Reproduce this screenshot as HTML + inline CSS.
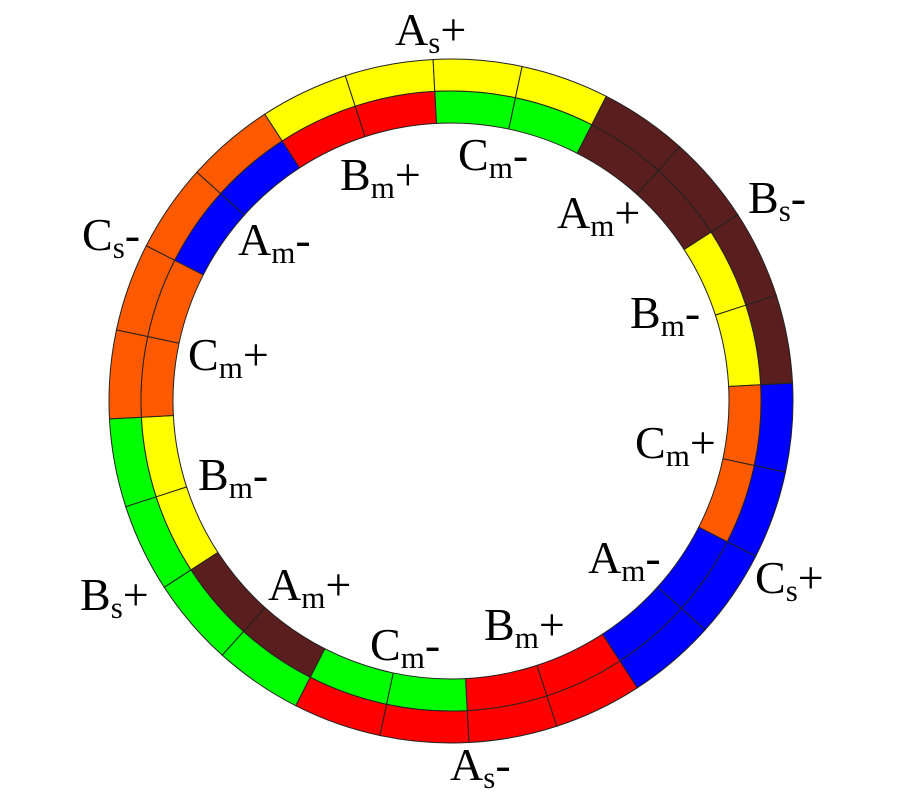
<!DOCTYPE html>
<html><head><meta charset="utf-8"><style>
html,body{margin:0;padding:0;background:#fff;width:899px;height:804px;overflow:hidden}
text{font-family:"Liberation Serif",serif;fill:#000}
</style></head><body>
<svg id="s" width="899" height="804" viewBox="0 0 899 804" xmlns="http://www.w3.org/2000/svg">
<g id="ring"></g>
<g font-size="46">
<text x="395" y="45">A<tspan font-size="31" dy="8">s</tspan><tspan dy="-8">+</tspan></text>
<text x="340" y="190">B<tspan font-size="31" dy="8">m</tspan><tspan dy="-8">+</tspan></text>
<text x="458" y="170">C<tspan font-size="31" dy="8">m</tspan><tspan dy="-8">-</tspan></text>
<text x="557" y="228">A<tspan font-size="31" dy="8">m</tspan><tspan dy="-8">+</tspan></text>
<text x="748" y="213">B<tspan font-size="31" dy="8">s</tspan><tspan dy="-8">-</tspan></text>
<text x="82" y="250">C<tspan font-size="31" dy="8">s</tspan><tspan dy="-8">-</tspan></text>
<text x="238" y="255">A<tspan font-size="31" dy="8">m</tspan><tspan dy="-8">-</tspan></text>
<text x="630" y="328">B<tspan font-size="31" dy="8">m</tspan><tspan dy="-8">-</tspan></text>
<text x="188" y="370">C<tspan font-size="31" dy="8">m</tspan><tspan dy="-8">+</tspan></text>
<text x="635" y="458">C<tspan font-size="31" dy="8">m</tspan><tspan dy="-8">+</tspan></text>
<text x="198" y="490">B<tspan font-size="31" dy="8">m</tspan><tspan dy="-8">-</tspan></text>
<text x="588" y="573">A<tspan font-size="31" dy="8">m</tspan><tspan dy="-8">-</tspan></text>
<text x="755" y="593">C<tspan font-size="31" dy="8">s</tspan><tspan dy="-8">+</tspan></text>
<text x="80" y="610">B<tspan font-size="31" dy="8">s</tspan><tspan dy="-8">+</tspan></text>
<text x="268" y="600">A<tspan font-size="31" dy="8">m</tspan><tspan dy="-8">+</tspan></text>
<text x="370" y="660">C<tspan font-size="31" dy="8">m</tspan><tspan dy="-8">-</tspan></text>
<text x="484" y="640">B<tspan font-size="31" dy="8">m</tspan><tspan dy="-8">+</tspan></text>
<text x="450" y="780">A<tspan font-size="31" dy="8">s</tspan><tspan dy="-8">-</tspan></text>
</g>
</svg>
<script>
(function(){
var cx=451,cy=401,R0=278,R1=310,R2=342;
var Y="#ffff00",Br="#5a1e1e",Bl="#0000ff",Rd="#ff0000",G="#00ff00",O="#ff5a00";
var outer=[Y,Br,Bl,Rd,G,O],inner=[G,Br,Y,O,Bl,Rd,G,Br,Y,O,Bl,Rd];
function pt(r,a){var t=a*Math.PI/180;return [(cx+r*Math.sin(t)).toFixed(2),(cy-r*Math.cos(t)).toFixed(2)];}
function wedge(r1,r2,a1,a2,c){
var p1=pt(r2,a1),p2=pt(r2,a2),p3=pt(r1,a2),p4=pt(r1,a1);
return '<path d="M'+p1+' A'+r2+' '+r2+' 0 0 1 '+p2+' L'+p3+' A'+r1+' '+r1+' 0 0 0 '+p4+' Z" fill="'+c+'" stroke="#222" stroke-width="1"/>';}
var h='';
for(var i=0;i<24;i++){var a=-33+15*i;h+=wedge(R1,R2,a,a+15,outer[Math.floor(i/4)]);}
for(var i=0;i<24;i++){var a=-3+15*i;h+=wedge(R0,R1,a,a+15,inner[Math.floor(i/2)]);}
document.getElementById('ring').innerHTML=h;
})();
</script>
</body></html>
